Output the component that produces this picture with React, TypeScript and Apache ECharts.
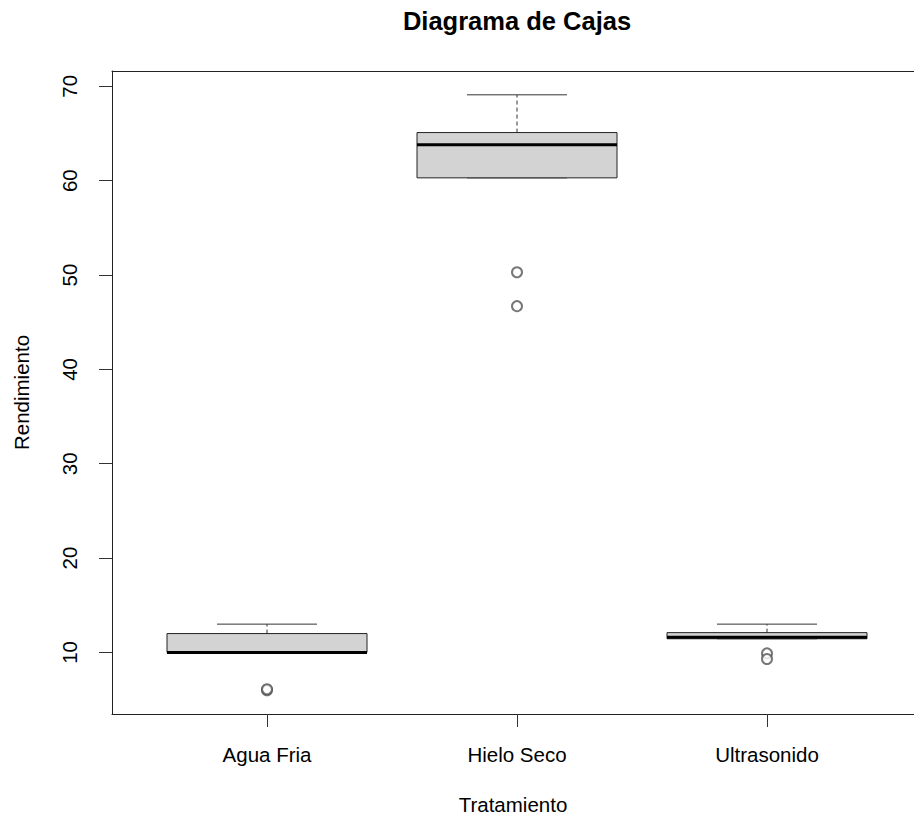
import React, { useEffect, useRef } from "react";
import * as echarts from "echarts";

const categories = ["Agua Fria", "Hielo Seco", "Ultrasonido"];
const whiskerLow = [10, 60.3, 11.45];
const q1 = [10, 60.3, 11.45];
const median = [10, 63.8, 11.6];
const q3 = [12, 65.1, 12.1];
const whiskerHigh = [13, 69.1, 13];
const outliers = [
  [6.0, 6.1],
  [50.3, 46.7],
  [9.9, 9.3],
];
const yTicks = [10, 20, 30, 40, 50, 60, 70];
const xTicks = [1, 2, 3];

const FONT = "'Liberation Sans', Arial, Helvetica, sans-serif";

export default function App() {
  const ref = useRef<HTMLDivElement>(null);

  useEffect(() => {
    if (!ref.current) return;
    const chart = echarts.init(ref.current, null, { renderer: "svg" });

    const allVals = [...whiskerLow, ...whiskerHigh, ...outliers.flat()];
    const dMin = Math.min(...allVals);
    const dMax = Math.max(...allVals);
    const r = dMax - dMin;
    const yMin = dMin - 0.04 * r;
    const yMax = dMax + 0.04 * r;

    const xMin = 0.38;
    const xMax = 0.38 + 802 / 250;

    const boxData = categories.map((_, i) => [
      i + 1,
      whiskerLow[i],
      q1[i],
      median[i],
      q3[i],
      whiskerHigh[i],
    ]);
    const outlierData: number[][] = [];
    outliers.forEach((arr, i) => arr.forEach((v) => outlierData.push([i + 1, v])));

    const lineCol = "#222";

    const option: any = {
      animation: false,
      backgroundColor: "#fff",
      textStyle: { fontFamily: FONT },
      title: {
        text: "Diagrama de Cajas",
        left: 517,
        top: 8,
        padding: 0,
        textAlign: "center",
        textStyle: { fontFamily: FONT, fontWeight: "bold", fontSize: 25.5, color: "#000" },
      },
      grid: {
        left: 112,
        top: 71,
        width: 802,
        height: 643,
        show: false,
        containLabel: false,
        outerBoundsMode: "none",
      },
      xAxis: [
        {
          type: "value",
          min: xMin,
          max: xMax,
          position: "bottom",
          splitLine: { show: false },
          axisLine: { show: true, lineStyle: { color: lineCol, width: 1 } },
          axisTick: {
            show: true,
            length: 13,
            customValues: xTicks,
            lineStyle: { color: "#333", width: 1 },
          },
          axisLabel: {
            customValues: xTicks,
            formatter: (v: number) => categories[Math.round(v) - 1] ?? "",
            margin: 30,
            fontSize: 20.5,
            color: "#000",
            fontFamily: FONT,
          },
          name: "Tratamiento",
          nameLocation: "middle",
          nameGap: 80,
          nameTextStyle: { fontSize: 20.5, color: "#000", fontFamily: FONT },
        },
        {
          type: "value",
          min: xMin,
          max: xMax,
          position: "top",
          splitLine: { show: false },
          axisLine: { show: true, onZero: false, lineStyle: { color: lineCol, width: 1 } },
          axisTick: { show: false },
          axisLabel: { show: false },
        },
      ],
      yAxis: {
        type: "value",
        min: yMin,
        max: yMax,
        splitLine: { show: false },
        axisLine: { show: true, onZero: false, lineStyle: { color: lineCol, width: 1 } },
        axisTick: {
          show: true,
          length: 13,
          customValues: yTicks,
          lineStyle: { color: "#333", width: 1 },
        },
        axisLabel: {
          customValues: yTicks,
          rotate: 90,
          margin: 32,
          fontSize: 20.5,
          color: "#000",
          fontFamily: FONT,
        },
        name: "Rendimiento",
        nameLocation: "middle",
        nameRotate: 90,
        nameGap: 80,
        nameTextStyle: { fontSize: 20.5, color: "#000", fontFamily: FONT },
      },
      series: [
        {
          type: "custom",
          xAxisIndex: 0,
          data: boxData,
          encode: { x: 0, y: [1, 2, 3, 4, 5] },
          renderItem: (params: any, api: any) => {
            const x = api.value(0);
            const lo = api.value(1);
            const a = api.value(2);
            const m = api.value(3);
            const b = api.value(4);
            const hi = api.value(5);
            const half = 0.4;
            const capHalf = 0.2;
            const c = (xx: number, yy: number) => api.coord([xx, yy]);
            const [cx, yLo] = c(x, lo);
            const [, yHi] = c(x, hi);
            const [xl, yA] = c(x - half, a);
            const [xr, yB] = c(x + half, b);
            const [, yM] = c(x, m);
            const [cl] = c(x - capHalf, lo);
            const [cr] = c(x + capHalf, lo);
            const wStyle = { stroke: "#333", lineWidth: 1, lineDash: [4, 3] };
            const capStyle = { stroke: "#333", lineWidth: 1 };
            return {
              type: "group",
              children: [
                { type: "line", shape: { x1: cx, y1: yB, x2: cx, y2: yHi }, style: wStyle },
                { type: "line", shape: { x1: cx, y1: yA, x2: cx, y2: yLo }, style: wStyle },
                { type: "line", shape: { x1: cl, y1: yHi, x2: cr, y2: yHi }, style: capStyle },
                { type: "line", shape: { x1: cl, y1: yLo, x2: cr, y2: yLo }, style: capStyle },
                {
                  type: "rect",
                  shape: { x: xl, y: yB, width: xr - xl, height: yA - yB },
                  style: { fill: "#D3D3D3", stroke: "#222", lineWidth: 1 },
                },
                {
                  type: "line",
                  shape: { x1: xl, y1: yM, x2: xr, y2: yM },
                  style: { stroke: "#000", lineWidth: 3 },
                },
              ],
            };
          },
        },
        {
          type: "scatter",
          xAxisIndex: 0,
          data: outlierData,
          symbol: "emptyCircle",
          symbolSize: 10,
          itemStyle: { color: "#555", borderColor: "#555", borderWidth: 0.9 },
          z: 3,
        },
      ],
    };

    chart.setOption(option);
    return () => chart.dispose();
  }, []);

  return (
    <div
      ref={ref}
      style={{ position: "fixed", left: 0, top: 0, width: 914, height: 818, background: "#fff" }}
    />
  );
}
